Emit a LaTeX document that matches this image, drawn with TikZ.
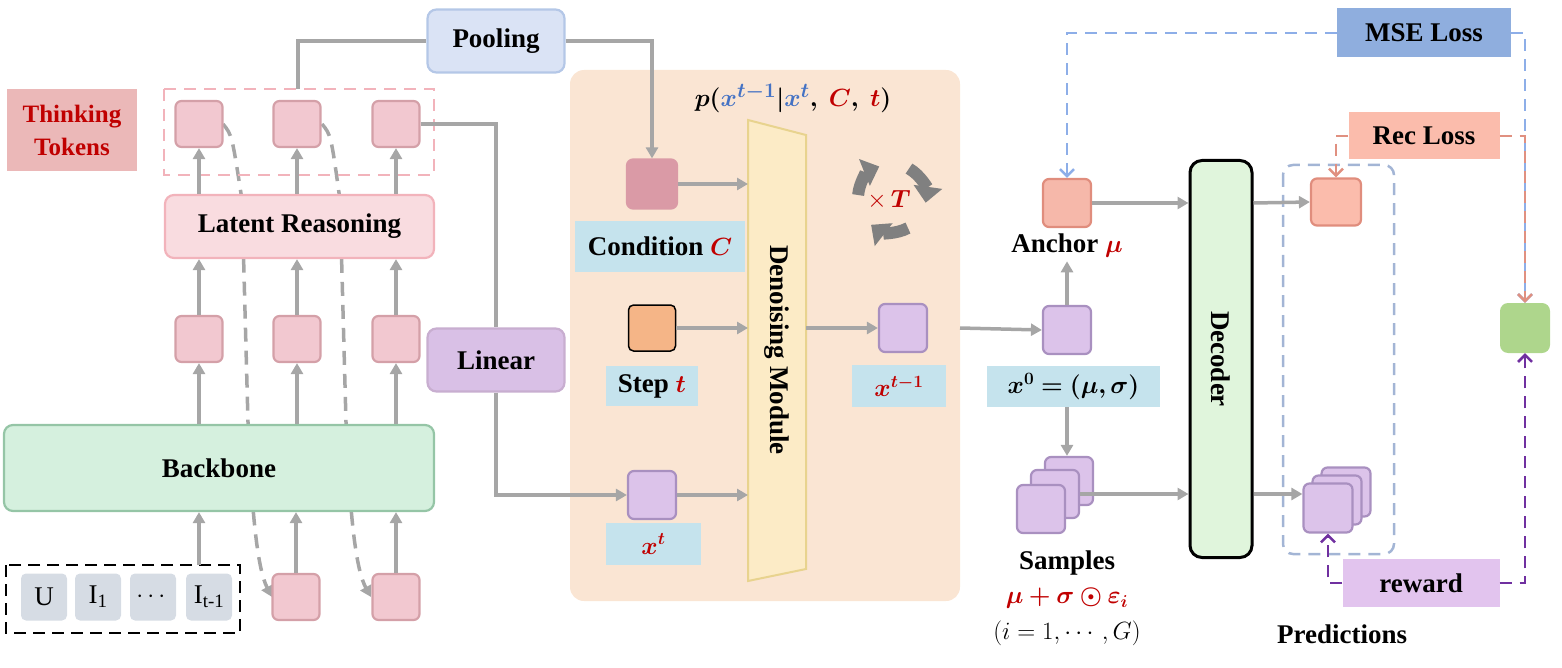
\documentclass[tikz,border=0pt]{standalone}
\usepackage{fontspec}
\setmainfont{Liberation Serif}
\usepackage{amsmath,bm}
\usetikzlibrary{arrows.meta,calc}
\definecolor{tokf}{HTML}{F2C8D0}\definecolor{tokd}{HTML}{D4A0A8}
\definecolor{latf}{HTML}{F9DCE0}\definecolor{latd}{HTML}{F2B3BB}
\definecolor{bbf}{HTML}{D5F0DE}\definecolor{bbd}{HTML}{95C5A6}
\definecolor{thf}{HTML}{EBB8B8}\definecolor{dred}{HTML}{C00000}
\definecolor{poolf}{HTML}{DAE3F5}\definecolor{poold}{HTML}{B4C7E7}
\definecolor{linf}{HTML}{D9C0E6}\definecolor{lind}{HTML}{C8AED0}
\definecolor{panel}{HTML}{FAE5D3}\definecolor{trapf}{HTML}{FCEBC6}\definecolor{trapd}{HTML}{E8D38E}
\definecolor{condf}{HTML}{DA9AA6}\definecolor{labf}{HTML}{C5E3ED}\definecolor{stepf}{HTML}{F5B587}
\definecolor{purf}{HTML}{DCC3EA}\definecolor{purd}{HTML}{A990C0}
\definecolor{ancf}{HTML}{F6B8AA}\definecolor{ancd}{HTML}{E08D7D}
\definecolor{decf}{HTML}{E0F5DC}\definecolor{predd}{HTML}{A3B5D5}
\definecolor{msef}{HTML}{8FAEDE}\definecolor{msel}{HTML}{8DAEE8}
\definecolor{recf}{HTML}{FBBCAC}\definecolor{recl}{HTML}{E09080}
\definecolor{grnf}{HTML}{AED68C}\definecolor{rewf}{HTML}{E2C4EE}\definecolor{rewl}{HTML}{7030A0}
\definecolor{inf}{HTML}{D6DCE4}\definecolor{mblue}{HTML}{4472C4}\definecolor{garr}{HTML}{A6A6A6}
\begin{document}
\begin{tikzpicture}[x=1pt,y=-1pt,
  lab/.style={font=\bfseries\fontsize{27}{30}\selectfont},
  tok/.style={rounded corners=6pt,minimum width=47,minimum height=46,fill=tokf,draw=tokd,line width=2.2},
  psq/.style={rounded corners=6pt,minimum width=48,minimum height=48,fill=purf,draw=purd,line width=2.2},
  big/.style={rounded corners=9pt,line width=2.2,lab},
  ga/.style={draw=garr,line width=3.5,-{Triangle[length=11pt,width=12pt]}},
  gl/.style={draw=garr,line width=3.5},
  gd/.style={draw=garr,line width=3.5,dash pattern=on 14pt off 9pt,-{Triangle[length=11pt,width=12pt]}},
  labbox/.style={fill=labf,inner sep=0pt,lab},
  lossarr/.style={line width=2.5,dash pattern=on 12pt off 8pt,-{Straight Barb[length=7pt,width=14pt,line width=2.5pt]}},
  it/.style={rounded corners=5pt,fill=inf,minimum width=46,minimum height=47,font=\fontsize{27}{30}\selectfont}]
\useasboundingbox (0,0) rectangle (1562,668);
% panel
\fill[panel,rounded corners=14pt] (570,70) rectangle (960,601);
% dashed curves (behind)
\draw[gd] (223,124) .. controls (232,135) .. (242,200) -- (248,422) .. controls (252,520) and (258,570) .. (272,597);
\draw[gd] (322,124) .. controls (331,135) .. (340,200) -- (346,422) .. controls (350,520) and (356,570) .. (371,597);
% left part
\node[fill=thf,minimum width=130,minimum height=82,align=center,text=dred,font=\bfseries\fontsize{25}{33}\selectfont] (think) at (72,130) {Thinking\\Tokens};
\draw[latd,line width=2,dash pattern=on 12pt off 8pt] (164,89) rectangle (434,175);
\foreach \n/\x in {1/199,2/297,3/396}{
  \node[tok] (t\n) at (\x,124) {};
  \node[tok] (m\n) at (\x,339) {};
}
\node[tok] (b2) at (296,597) {};
\node[tok] (b3) at (396,597) {};
\node[big,fill=latf,draw=latd,minimum width=269,minimum height=63] (lat) at (299.5,226.5) {Latent Reasoning};
\node[big,fill=bbf,draw=bbd,minimum width=430,minimum height=86] (bb) at (219,468) {Backbone};
\node[big,fill=poolf,draw=poold,minimum width=137,minimum height=63] (pool) at (496,41) {Pooling};
\node[big,fill=linf,draw=lind,minimum width=137,minimum height=63] (lin) at (496,360) {Linear};
\draw[line width=2.5,dash pattern=on 12pt off 7pt] (6,565) rectangle (240,633);
\node[it] (u) at (44,597) {U};
\node[it] (i1) at (98,597) {I\textsubscript{1}};
\node[it] (dots) at (153,597) {$\cdots$};
\node[it] (it) at (209,597) {I\textsubscript{t-1}};
\coordinate (inb) at (199,565);
\draw[ga] (inb) -- (inb|-bb.south);
\foreach \n in {1,2,3}{
  \draw[ga] (bb.north-|m\n) -- (m\n.south);
  \draw[ga] (m\n.north) -- (lat.south-|m\n);
  \draw[ga] (lat.north-|t\n) -- (t\n.south);
}
\draw[ga] (b2.north) -- (bb.south-|b2);
\draw[ga] (b3.north) -- (bb.south-|b3);
% pooling / linear
\coordinate (rt) at (298,89);
\draw[gl] (rt) |- (pool.west);
% denoising
\node[tok,fill=condf,draw=condf,minimum width=50,minimum height=49] (cond) at (652,184) {};
\node[rounded corners=5pt,fill=stepf,draw=black,line width=1.5,minimum width=47,minimum height=46] (step) at (652,328) {};
\node[psq] (xt) at (652,495) {};
\draw[ga] (pool.east) -| (cond.north);
\draw[gl] (t3.east) -| (lin.north);
\draw[ga] (lin.south) |- (xt.west);
\node[labbox,minimum width=170,minimum height=51] (condl) at (660,246.5) {Condition \textcolor{dred}{$\bm{C}$}};
\node[labbox,minimum width=92,minimum height=40] (stepl) at (652,386) {Step \textcolor{dred}{$\bm{t}$}};
\node[labbox,minimum width=95,minimum height=42] (xtl) at (653.5,544) {\textcolor{dred}{$\bm{x^t}$}};
\draw[trapd,fill=trapf,line width=2] (748,120) -- (806,135) -- (806,569) -- (748,581) -- cycle;
\node[rotate=-90,lab] (den) at (777,350) {Denoising Module};
\coordinate (tw) at (748,350);
\draw[ga] (cond.east) -- (cond.east-|tw);
\draw[ga] (step.east) -- (step.east-|tw);
\draw[ga] (xt.east) -- (xt.east-|tw);
\node[font=\fontsize{28}{30}\selectfont] (form) at (793,98) {$\bm{p(}\textcolor{mblue}{\bm{x^{t-1}}}\bm{|}\textcolor{mblue}{\bm{x^t}}\bm{,\ }\textcolor{dred}{\bm{C}}\bm{,\ }\textcolor{dred}{\bm{t}}\bm{)}$};
\node[psq] (xt1) at (903,328) {};
\draw[ga] (806,328) -- (xt1.west);
\node[labbox,minimum width=94,minimum height=42] (xt1l) at (899,386) {\textcolor{dred}{$\bm{x^{t-1}}$}};
\begin{scope}[shift={(892,198)},y=1pt]
\draw[gray,line width=12,-{Triangle[length=16pt,width=28pt]}] (175:34) arc[start angle=175,end angle=112,radius=34];
\draw[gray,line width=12,-{Triangle[length=16pt,width=28pt]}] (60:34) arc[start angle=60,end angle=-8,radius=34];
\draw[gray,line width=12,-{Triangle[length=16pt,width=28pt]}] (-62:34) arc[start angle=-62,end angle=-128,radius=34];
\end{scope}
\node[text=dred,font=\fontsize{24}{26}\selectfont] (xT) at (889,200) {$\times\,\bm{T}$};
% right of panel
\node[psq] (x0) at (1067,330) {};
\draw[ga] (960,328) -- (x0.west);
\node[tok,fill=ancf,draw=ancd,minimum width=48,minimum height=48] (anc) at (1067,203) {};
\node[lab] (ancl) at (1067,246) {Anchor \textcolor{dred}{$\bm{\mu}$}};
\draw[ga] (x0.north) -- (ancl.south);
\node[labbox,minimum width=173,minimum height=41] (x0l) at (1073.5,386.5) {$\bm{x^0=(\mu,\sigma)}$};
\node[psq] (s3) at (1069,481) {};
\node[psq] (s2) at (1055,494) {};
\node[psq] (s1) at (1041,509) {};
\draw[ga] (x0l.south-|x0) -- (s3.north-|x0);
\node[lab] (samp) at (1067,563) {Samples};
\node[text=dred,font=\fontsize{27}{30}\selectfont] (sampf) at (1067,598) {$\bm{\mu+\sigma\odot\varepsilon_i}$};
\node[font=\fontsize{25}{28}\selectfont] (sampi) at (1067,633) {$(i=1,\cdots,G)$};
% decoder
\node[rounded corners=12pt,fill=decf,draw=black,line width=3,minimum width=62,minimum height=397] (dec) at (1221,359) {};
\node[rotate=-90,lab] at (dec) {Decoder};
\draw[ga] (anc.east) -- (anc.east-|dec.west);
\draw[ga] (s2.east) -- (s2.east-|dec.west);
\draw[predd,line width=2.5,dash pattern=on 12pt off 8pt,rounded corners=10pt] (1283,165) rectangle (1394,554);
\node[tok,fill=recf,draw=ancd,minimum width=50,minimum height=47] (p1) at (1336,202) {};
\node[psq,minimum width=49,minimum height=49] (pc) at (1346,492) {};
\node[psq,minimum width=49,minimum height=49] (pb) at (1337,500) {};
\node[psq,minimum width=49,minimum height=49] (pa) at (1328,508) {};
\draw[ga] (anc.east-|dec.east) -- (p1.west);
\draw[ga] (s2.east-|dec.east) -- (pa.west|-s2.east);
\node[lab] (pred) at (1342,634) {Predictions};
% losses
\node[fill=msef,minimum width=174,minimum height=49,lab] (mse) at (1424,33) {MSE Loss};
\node[fill=recf,minimum width=151,minimum height=47,lab] (rec) at (1424,136) {Rec Loss};
\node[fill=rewf,minimum width=157,minimum height=48,lab] (rew) at (1421,583) {reward};
\node[rounded corners=8pt,fill=grnf,minimum width=50,minimum height=50] (grn) at (1525,328) {};
\draw[lossarr,msel] (mse.west) -| (anc.north);
\draw[lossarr,msel] (mse.east) -| (grn.north);
\draw[lossarr,recl] (rec.west) -| (p1.north);
\draw[lossarr,recl] (rec.east) -| (grn.north);
\draw[lossarr,rewl] (rew.east) -| (grn.south);
\draw[lossarr,rewl] (rew.west) -| (pa.south);
\end{tikzpicture}
\end{document}
